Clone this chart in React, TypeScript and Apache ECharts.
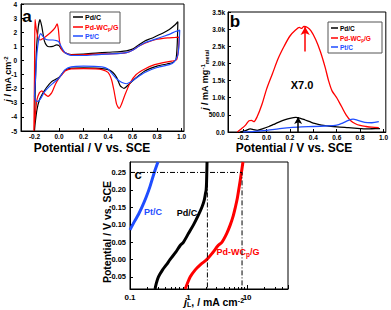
import React, { useEffect, useRef } from 'react';
import * as echarts from 'echarts';

// ---------- Panel a: CV curves (j / mA cm^-2 vs potential) ----------
const A_PDC_ANODIC = [[-0.2,-5.0],[-0.195,-2.5],[-0.185,0.5],[-0.17,2.3],[-0.155,2.9],[-0.14,2.4],[-0.12,1.4],[-0.1,1.05],[-0.08,0.97],[-0.05,1.0],[-0.02,1.1],[0.0,1.05],[0.02,0.8],[0.05,0.55],[0.1,0.42],[0.2,0.45],[0.3,0.52],[0.4,0.58],[0.5,0.63],[0.55,0.68],[0.6,0.8],[0.65,1.1],[0.7,1.38],[0.75,1.55],[0.8,1.75],[0.85,1.95],[0.9,2.2],[0.95,2.55],[0.97,2.75]];
const A_PDC_CATHODIC = [[0.97,2.75],[0.965,1.2],[0.955,0.1],[0.93,-0.15],[0.88,-0.25],[0.8,-0.4],[0.7,-0.75],[0.62,-1.3],[0.57,-1.7],[0.53,-1.98],[0.5,-1.8],[0.47,-1.2],[0.44,-0.85],[0.4,-0.65],[0.3,-0.55],[0.2,-0.52],[0.1,-0.55],[0.05,-0.7],[0.02,-1.0],[0.0,-1.2],[-0.03,-1.35],[-0.06,-1.5],[-0.1,-1.9],[-0.13,-2.3],[-0.16,-2.8],[-0.18,-3.5],[-0.195,-4.5],[-0.2,-5.0]];
const A_PDWC_ANODIC = [[-0.205,-5.0],[-0.2,-1],[-0.198,1.5],[-0.195,2.9],[-0.185,2.2],[-0.17,1.6],[-0.155,1.45],[-0.13,1.55],[-0.1,1.75],[-0.06,2.05],[-0.03,2.35],[-0.015,2.6],[-0.005,2.2],[0.005,1.3],[0.02,0.8],[0.05,0.55],[0.1,0.4],[0.2,0.42],[0.3,0.45],[0.4,0.47],[0.5,0.5],[0.55,0.55],[0.6,0.72],[0.65,1.0],[0.7,1.22],[0.75,1.38],[0.8,1.5],[0.85,1.57],[0.9,1.6],[0.95,1.63],[0.98,1.65]];
const A_PDWC_CATHODIC = [[0.98,1.65],[0.975,0.8],[0.96,0.05],[0.92,-0.05],[0.85,-0.15],[0.78,-0.3],[0.7,-0.6],[0.63,-1.0],[0.58,-1.6],[0.54,-2.4],[0.51,-3.1],[0.49,-3.4],[0.47,-3.1],[0.45,-2.2],[0.43,-1.4],[0.4,-0.85],[0.35,-0.65],[0.3,-0.6],[0.2,-0.58],[0.1,-0.6],[0.05,-0.75],[0.02,-1.05],[0.0,-1.25],[-0.03,-1.7],[-0.06,-2.3],[-0.09,-2.55],[-0.12,-2.35],[-0.14,-2.15],[-0.16,-2.3],[-0.18,-2.8],[-0.195,-4],[-0.205,-5.0]];
const A_PTC_ANODIC = [[-0.2,-2.6],[-0.19,-1.0],[-0.18,0.5],[-0.165,1.5],[-0.15,1.9],[-0.13,1.7],[-0.11,1.5],[-0.08,1.45],[-0.05,1.45],[-0.02,1.4],[0.0,1.3],[0.02,0.95],[0.05,0.55],[0.1,0.35],[0.2,0.35],[0.3,0.4],[0.4,0.45],[0.5,0.5],[0.55,0.55],[0.6,0.72],[0.65,1.0],[0.7,1.25],[0.75,1.4],[0.8,1.55],[0.85,1.7],[0.9,1.85],[0.95,2.05],[0.985,2.15]];
const A_PTC_CATHODIC = [[0.985,2.15],[0.98,1.2],[0.97,0.4],[0.94,-0.1],[0.9,-0.3],[0.8,-0.5],[0.7,-0.85],[0.63,-1.25],[0.58,-1.55],[0.55,-1.65],[0.51,-1.55],[0.47,-1.3],[0.43,-0.9],[0.4,-0.6],[0.35,-0.45],[0.2,-0.4],[0.1,-0.45],[0.05,-0.65],[0.02,-1.0],[0.0,-1.25],[-0.04,-1.55],[-0.08,-1.85],[-0.12,-2.25],[-0.15,-2.7],[-0.17,-2.9],[-0.19,-2.85],[-0.2,-2.6]];

// ---------- Panel b: mass activity (mA mg^-1 metal) ----------
const B_PDC = [[-0.225,0],[-0.18,40],[-0.14,90],[-0.11,70],[-0.08,50],[-0.03,100],[0.02,160],[0.06,220],[0.1,280],[0.16,360],[0.2,400],[0.25,425],[0.29,400],[0.33,350],[0.37,300],[0.41,250],[0.47,200],[0.53,175],[0.6,150],[0.7,125],[0.8,100],[0.84,90],[0.9,95],[0.97,100]];
const B_PDWC = [[-0.25,0],[-0.22,80],[-0.18,200],[-0.15,330],[-0.13,340],[-0.11,300],[-0.08,450],[-0.04,800],[0.0,1250],[0.05,1700],[0.1,2150],[0.15,2500],[0.2,2800],[0.25,2980],[0.28,3050],[0.3,3020],[0.32,3080],[0.35,3050],[0.38,2950],[0.42,2700],[0.46,2350],[0.5,1900],[0.53,1500],[0.56,1200],[0.6,1000],[0.64,750],[0.68,500],[0.72,330],[0.76,240],[0.8,190],[0.85,160],[0.9,140],[0.96,130]];
const B_PTC = [[-0.2,0],[-0.1,20],[0.0,50],[0.1,90],[0.2,130],[0.3,150],[0.4,160],[0.5,175],[0.6,200],[0.65,260],[0.7,340],[0.74,375],[0.78,340],[0.84,280],[0.9,270],[0.96,300]];
const B_ARROW_PDC = [[0.27, 0], [0.27, 440]];
const B_ARROW_PDWC = [[0.33, 2350], [0.33, 3060]];

// ---------- Panel c: j_L (log) vs potential ----------
const C_PTC = [[0.1,0.085],[0.12,0.11],[0.14,0.13],[0.16,0.15],[0.19,0.18],[0.22,0.21],[0.26,0.25],[0.3,0.28]];
const C_PDC = [[0.268,-0.085],[0.28,-0.07],[0.306,-0.05],[0.36,-0.03],[0.42,-0.015],[0.485,0.0],[0.6,0.02],[0.72,0.04],[0.82,0.05],[1.0,0.075],[1.22,0.1],[1.45,0.125],[1.69,0.15],[1.85,0.17],[1.95,0.19],[2.0,0.2],[2.03,0.22],[2.05,0.25],[2.07,0.28]];
const C_PDWC = [[0.877,-0.085],[0.95,-0.07],[1.07,-0.05],[1.3,-0.03],[1.6,-0.015],[2.06,0.0],[2.6,0.02],[3.2,0.04],[3.73,0.05],[4.5,0.075],[5.18,0.1],[5.8,0.125],[6.31,0.15],[6.8,0.175],[7.2,0.2],[7.6,0.225],[8.0,0.25],[8.5,0.28]];
const C_GUIDE_1 = [[0.1,0.25],[8.2,0.25],[8.2,-0.085]];
const C_GUIDE_2 = [[2.1,0.25],[2.1,-0.085]];

// ---------- Tick labels ----------
const POT_TICKS = [-0.2, 0.0, 0.2, 0.4, 0.6, 0.8, 1.0];
const C_Y_TICKS = [-0.05, 0.0, 0.05, 0.1, 0.15, 0.2, 0.25];

const BLACK = '#000000';
const RED = '#ff0000';
const BLUE = '#1f4dff';
const FONT = 'Liberation Sans, Arial, sans-serif';

const tickLabel = (size: number) => ({ fontSize: size, fontWeight: 'bold', color: '#000', fontFamily: FONT });

function valueAxis(extra: any) {
  return {
    type: 'value',
    axisLine: { show: true, onZero: false, lineStyle: { color: '#000', width: 1 } },
    axisTick: { show: true, inside: true, length: 3, lineStyle: { color: '#000' } },
    splitLine: { show: false },
    ...extra,
  };
}

function lineSeries(name: string, data: number[][], color: string, xi: number, yi: number, width = 1.2, smooth: number | boolean = 0.2) {
  return {
    type: 'line', name, data, xAxisIndex: xi, yAxisIndex: yi,
    showSymbol: false, symbol: 'none', smooth, lineStyle: { color, width }, itemStyle: { color },
    silent: true,
  };
}

function legendBox(x: number, y: number, w: number, h: number, rows: number[], lineLen: number, fs: number) {
  const items = [
    { t: 'Pd/C', c: BLACK },
    { t: '{n|Pd-WC}{s|p}{n|/G}', c: RED },
    { t: 'Pt/C', c: BLUE },
  ];
  const children: any[] = [
    { type: 'rect', shape: { x, y, width: w, height: h }, style: { fill: '#fff', stroke: '#555', lineWidth: 1 } },
  ];
  items.forEach((it, i) => {
    children.push({ type: 'line', shape: { x1: x + 3, y1: rows[i], x2: x + 3 + lineLen, y2: rows[i] }, style: { stroke: it.c, lineWidth: 1.5 } });
    children.push({
      type: 'text', x: x + 5 + lineLen, y: rows[i],
      style: {
        text: it.t, fill: it.c, fontSize: fs, fontWeight: 'bold', fontFamily: FONT, verticalAlign: 'middle', align: 'left',
        rich: {
          n: { fontSize: fs, fontWeight: 'bold', fontFamily: FONT, fill: it.c },
          s: { fontSize: fs - 2, fontWeight: 'bold', fontFamily: FONT, fill: it.c, verticalAlign: 'bottom', padding: [4, 0, 0, 0] },
        },
      },
    });
  });
  return children;
}

export default function App() {
  const ref = useRef<HTMLDivElement>(null);
  useEffect(() => {
    const chart = echarts.init(ref.current!, null, { renderer: 'svg', width: 391, height: 310 });
    const potTick = { show: true, inside: true, length: 3, customValues: POT_TICKS, lineStyle: { color: '#000' } };
    const potLabel = { ...tickLabel(6.5), customValues: POT_TICKS, margin: 2, formatter: (v: number) => v.toFixed(1) };
    const option: any = {
      animation: false,
      backgroundColor: '#fff',
      grid: [
        { left: 21, top: 4, width: 163, height: 127, show: true, borderColor: '#000', borderWidth: 1, backgroundColor: 'transparent' },
        { left: 228, top: 12, width: 158, height: 120, show: true, borderColor: '#000', borderWidth: 1, backgroundColor: 'transparent' },
        { left: 130, top: 162, width: 158, height: 127, show: true, borderColor: '#000', borderWidth: 1, backgroundColor: 'transparent' },
      ],
      xAxis: [
        valueAxis({ gridIndex: 0, min: -0.31, max: 1.02, axisTick: potTick, axisLabel: potLabel }),
        valueAxis({ gridIndex: 1, min: -0.33, max: 1.02, axisTick: potTick, axisLabel: potLabel }),
        { type: 'log', gridIndex: 2, min: 0.1, max: 50, logBase: 10,
          axisLine: { show: true, onZero: false, lineStyle: { color: '#000' } },
          axisTick: { show: true, inside: true, length: 4, lineStyle: { color: '#000' } },
          minorTick: { show: true, splitNumber: 9, length: 2, lineStyle: { color: '#000' } },
          splitLine: { show: false },
          axisLabel: { ...tickLabel(8), margin: 4, showMaxLabel: false, formatter: (v: number) => (v < 1 ? v.toFixed(1) : String(Math.round(v))) } },
      ],
      yAxis: [
        valueAxis({ gridIndex: 0, min: -5, max: 4, interval: 1,
          axisLabel: { ...tickLabel(6.5), margin: 4 } }),
        valueAxis({ gridIndex: 1, min: 0, max: 3500, interval: 500,
          axisLabel: { ...tickLabel(6.5), margin: 3, formatter: (v: number) => (v === 0 ? '0.0' : v < 1000 ? v.toFixed(1) : (v / 1000).toFixed(1) + 'k') } }),
        valueAxis({ gridIndex: 2, min: -0.085, max: 0.28,
          axisTick: { show: true, inside: true, length: 3, customValues: C_Y_TICKS, lineStyle: { color: '#000' } },
          axisLabel: { ...tickLabel(7.5), customValues: C_Y_TICKS, margin: 4, formatter: (v: number) => v.toFixed(2) } }),
      ],
      series: [
        lineSeries('Pd/C', [...A_PDC_ANODIC, ...A_PDC_CATHODIC], BLACK, 0, 0),
        lineSeries('Pd-WCp/G', [...A_PDWC_ANODIC, ...A_PDWC_CATHODIC], RED, 0, 0),
        lineSeries('Pt/C', [...A_PTC_ANODIC, ...A_PTC_CATHODIC], BLUE, 0, 0),
        {
          ...lineSeries('Pd/C', B_PDC, BLACK, 1, 1, 1.3, 0.3),
          markLine: {
            silent: true, symbol: ['none', 'arrow'], symbolSize: [6, 7], animation: false,
            lineStyle: { color: BLACK, width: 1.5, type: 'solid' }, label: { show: false },
            data: [[{ coord: B_ARROW_PDC[0] }, { coord: B_ARROW_PDC[1] }]],
          },
        },
        {
          ...lineSeries('Pd-WCp/G', B_PDWC, RED, 1, 1, 1.3, 0.3),
          markLine: {
            silent: true, symbol: ['none', 'arrow'], symbolSize: [7, 8], animation: false,
            lineStyle: { color: RED, width: 1.5, type: 'solid' }, label: { show: false },
            data: [[{ coord: B_ARROW_PDWC[0] }, { coord: B_ARROW_PDWC[1] }]],
          },
        },
        lineSeries('Pt/C', B_PTC, BLUE, 1, 1, 1.3, 0.3),
        lineSeries('Pt/C', C_PTC, BLUE, 2, 2, 3, 0.3),
        lineSeries('Pd/C', C_PDC, BLACK, 2, 2, 3, 0.3),
        lineSeries('Pd-WCp/G', C_PDWC, RED, 2, 2, 3, 0.3),
        { type: 'line', name: 'guide', data: C_GUIDE_1, xAxisIndex: 2, yAxisIndex: 2, showSymbol: false, symbol: 'none', silent: true,
          lineStyle: { color: '#000', width: 1, type: [5, 2, 1, 2] } },
        { type: 'line', name: 'guide2', data: C_GUIDE_2, xAxisIndex: 2, yAxisIndex: 2, showSymbol: false, symbol: 'none', silent: true,
          lineStyle: { color: '#000', width: 1, type: [5, 2, 1, 2] } },
      ],
      graphic: [
        // panel letters
        { type: 'text', x: 27, y: 16, style: { text: 'a', fontSize: 17, fontWeight: 'bold', fontFamily: FONT, fill: '#000', align: 'center', verticalAlign: 'middle' } },
        { type: 'text', x: 235, y: 21, style: { text: 'b', fontSize: 17, fontWeight: 'bold', fontFamily: FONT, fill: '#000', align: 'center', verticalAlign: 'middle' } },
        { type: 'text', x: 138, y: 174, style: { text: 'c', fontSize: 13, fontWeight: 'bold', fontFamily: FONT, fill: '#000', align: 'center', verticalAlign: 'middle' } },
        // x titles a & b
        { type: 'text', x: 92, y: 148, style: { text: 'Potential / V vs. SCE', fontSize: 12, fontWeight: 'bold', fontFamily: FONT, fill: '#000', align: 'center', verticalAlign: 'middle' } },
        { type: 'text', x: 294, y: 148, style: { text: 'Potential / V vs. SCE', fontSize: 12, fontWeight: 'bold', fontFamily: FONT, fill: '#000', align: 'center', verticalAlign: 'middle' } },
        // y title a
        { type: 'text', x: 8, y: 79, rotation: Math.PI / 2, style: {
          text: '{i|j} / mA cm{s|-2}', fontSize: 9, fontWeight: 'bold', fontFamily: FONT, fill: '#000', align: 'center', verticalAlign: 'middle',
          rich: { i: { fontSize: 9, fontStyle: 'italic', fontWeight: 'bold', fontFamily: FONT, fill: '#000' }, s: { fontSize: 6, fontWeight: 'bold', fontFamily: FONT, fill: '#000', verticalAlign: 'top', padding: [0, 0, 4, 0] } },
        } },
        // y title b
        { type: 'text', x: 205, y: 80, rotation: Math.PI / 2, style: {
          text: '{i|j} / mA mg{s|-1}{b|metal}', fontSize: 9, fontWeight: 'bold', fontFamily: FONT, fill: '#000', align: 'center', verticalAlign: 'middle',
          rich: { i: { fontSize: 9, fontStyle: 'italic', fontWeight: 'bold', fontFamily: FONT, fill: '#000' }, s: { fontSize: 6, fontWeight: 'bold', fontFamily: FONT, fill: '#000', verticalAlign: 'top', padding: [0, 0, 4, 0] }, b: { fontSize: 5.5, fontWeight: 'bold', fontFamily: FONT, fill: '#000', verticalAlign: 'bottom', padding: [4, 0, 0, 0] } },
        } },
        // panel c titles
        { type: 'text', x: 107, y: 232, rotation: Math.PI / 2, style: { text: 'Potential / V vs. SCE', fontSize: 10.5, fontWeight: 'bold', fontFamily: FONT, fill: '#000', align: 'center', verticalAlign: 'middle' } },
        { type: 'text', x: 214, y: 302, style: {
          text: '{i|j}{b|L}, / mA cm{s|-2}', fontSize: 10.5, fontWeight: 'bold', fontFamily: FONT, fill: '#000', align: 'center', verticalAlign: 'middle',
          rich: { i: { fontSize: 10.5, fontStyle: 'italic', fontWeight: 'bold', fontFamily: FONT, fill: '#000' }, s: { fontSize: 7, fontWeight: 'bold', fontFamily: FONT, fill: '#000', verticalAlign: 'top', padding: [0, 0, 4, 0] }, b: { fontSize: 7, fontWeight: 'bold', fontFamily: FONT, fill: '#000', verticalAlign: 'bottom', padding: [4, 0, 0, 0] } },
        } },
        // panel c curve labels
        { type: 'text', x: 153, y: 212, style: { text: 'Pt/C', fontSize: 9, fontWeight: 'bold', fontFamily: FONT, fill: BLUE, align: 'center', verticalAlign: 'middle' } },
        { type: 'text', x: 187, y: 213, style: { text: 'Pd/C', fontSize: 9, fontWeight: 'bold', fontFamily: FONT, fill: '#000', align: 'center', verticalAlign: 'middle' } },
        { type: 'text', x: 238, y: 252, style: {
          text: '{n|Pd-WC}{s|p}{n|/G}', fill: RED, fontSize: 9, fontWeight: 'bold', fontFamily: FONT, align: 'center', verticalAlign: 'middle',
          rich: { n: { fontSize: 9, fontWeight: 'bold', fontFamily: FONT, fill: RED }, s: { fontSize: 6.5, fontWeight: 'bold', fontFamily: FONT, fill: RED, verticalAlign: 'bottom', padding: [4, 0, 0, 0] } },
        } },
        // panel b annotation
        { type: 'text', x: 302, y: 85, style: { text: 'X7.0', fontSize: 11, fontWeight: 'bold', fontFamily: FONT, fill: '#000', align: 'center', verticalAlign: 'middle' } },
        // legends
        ...legendBox(70, 12, 50, 31, [17, 27, 36], 10, 7),
        ...legendBox(328, 22, 54, 31, [28, 38, 47], 7, 6.5),
      ],
    };
    chart.setOption(option);
    return () => chart.dispose();
  }, []);
  return <div ref={ref} style={{ position: 'fixed', left: 0, top: 0, width: 391, height: 310, background: '#fff' }} />;
}
